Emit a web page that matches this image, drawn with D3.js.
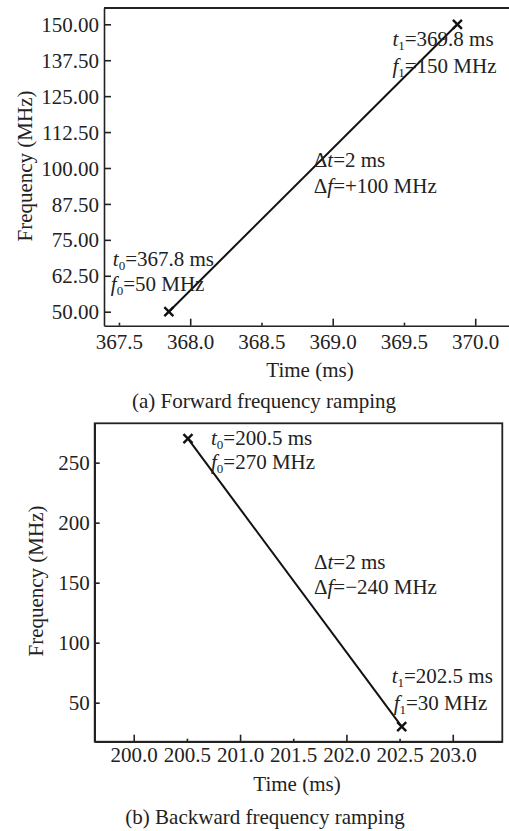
<!DOCTYPE html>
<html>
<head>
<meta charset="utf-8">
<script src="https://cdn.jsdelivr.net/npm/d3@7"></script>
<style>
  body { margin: 0; background: #fff; }
  svg { display: block; font-family: "Liberation Serif", "Times New Roman", serif; }
  .axis text { font-size: 21px; fill: #222; font-family: "Liberation Serif", serif; }
  .axis path, .axis line { stroke: #222; stroke-width: 1.6; }
</style>
</head>
<body>
<svg id="chart" width="509" height="831"></svg>
<script>
// panel (a): forward ramp
const fwdTime = [367.85, 369.875];
const fwdFreq = [50, 150];
const fwdXTicks = [367.5, 368.0, 368.5, 369.0, 369.5, 370.0];
const fwdYTicks = [50, 62.5, 75, 87.5, 100, 112.5, 125, 137.5, 150];

// panel (b): backward ramp
const bwdTime = [200.51, 202.52];
const bwdFreq = [270, 30];
const bwdXTicks = [200.0, 200.5, 201.0, 201.5, 202.0, 202.5, 203.0];
const bwdYTicks = [50, 100, 150, 200, 250];

const svg = d3.select('#chart');
const INK = '#222';
const FS = '21px';

// draws an annotation line made of pieces (italic / subscript)
function label(g, x, y, parts) {
  const t = g.append('text').attr('x', x).attr('y', y)
    .style('font-size', FS).attr('fill', INK);
  parts.forEach(p => {
    const s = t.append('tspan').text(p.t);
    if (p.i) s.style('font-style', 'italic');
    if (p.sub) s.attr('dy', 4).style('font-size', '13px');
    if (p.up) s.attr('dy', -4);
  });
}

function marker(g, x, y) {
  const r = 4.5;
  g.append('path')
    .attr('d', `M${x - r},${y - r}L${x + r},${y + r}M${x - r},${y + r}L${x + r},${y - r}`)
    .attr('stroke', '#111').attr('stroke-width', 2.4).attr('fill', 'none');
}

function title(g, x, y, txt, rot) {
  g.append('text')
    .attr('transform', `translate(${x},${y})` + (rot ? ' rotate(-90)' : ''))
    .attr('text-anchor', 'middle')
    .style('font-size', FS).attr('fill', INK).text(txt);
}

// ---------- panel (a) ----------
const xA = d3.scaleLinear().domain([367.395, 370.237]).range([104, 509]);
const yA = d3.scaleLinear().domain([45.13, 155.67]).range([325.7, 8]);
const gA = svg.append('g');

gA.append('g').attr('class', 'axis')
  .attr('transform', `translate(0,${yA.range()[0]})`)
  .call(d3.axisBottom(xA).tickValues(fwdXTicks).tickFormat(d3.format('.1f'))
    .tickSizeInner(-7).tickSizeOuter(0).tickPadding(8))
  .call(g => g.selectAll('.tick line').attr('y2', d => Number.isInteger(d) ? -7 : -3))
  .call(g => g.selectAll('.tick text').attr('dy', '0.71em'));

gA.append('g').attr('class', 'axis')
  .attr('transform', `translate(${xA.range()[0]},0)`)
  .call(d3.axisLeft(yA).tickValues(fwdYTicks).tickFormat(d3.format('.2f'))
    .tickSizeInner(-7).tickSizeOuter(0).tickPadding(5))
  .call(g => g.selectAll('.tick text').attr('dy', '0.34em'));

gA.append('line')
  .attr('x1', xA.range()[0]).attr('x2', xA.range()[1])
  .attr('y1', yA.range()[1]).attr('y2', yA.range()[1])
  .attr('stroke', INK).attr('stroke-width', 1.8);

const lineA = d3.line().x((d, i) => xA(fwdTime[i])).y(d => yA(d));
gA.append('path').datum(fwdFreq).attr('d', lineA)
  .attr('fill', 'none').attr('stroke', '#111').attr('stroke-width', 2);
fwdFreq.forEach((f, i) => marker(gA, xA(fwdTime[i]), yA(f)));

const a0 = [xA(fwdTime[0]), yA(fwdFreq[0])];
const a1 = [xA(fwdTime[1]), yA(fwdFreq[1])];
label(gA, a1[0] - 65, a1[1] + 22, [{t: 't', i: 1}, {t: '1', sub: 1}, {t: '=369.8 ms', up: 1}]);
label(gA, a1[0] - 65, a1[1] + 49, [{t: 'f', i: 1}, {t: '1', sub: 1}, {t: '=150 MHz', up: 1}]);
label(gA, a0[0] + 145, a0[1] - 145, [{t: 'Δ'}, {t: 't', i: 1}, {t: '=2 ms'}]);
label(gA, a0[0] + 145, a0[1] - 119, [{t: 'Δ'}, {t: 'f', i: 1}, {t: '=+100 MHz'}]);
label(gA, a0[0] - 56, a0[1] - 46, [{t: 't', i: 1}, {t: '0', sub: 1}, {t: '=367.8 ms', up: 1}]);
label(gA, a0[0] - 58, a0[1] - 21, [{t: 'f', i: 1}, {t: '0', sub: 1}, {t: '=50 MHz', up: 1}]);

title(gA, 310, 377, 'Time (ms)');
title(gA, 32, 166, 'Frequency (MHz)', true);
title(gA, 264, 408, '(a) Forward frequency ramping');

// ---------- panel (b) ----------
const xB = d3.scaleLinear().domain([199.633, 203.466]).range([94.7, 502.3]);
const yB = d3.scaleLinear().domain([17.5, 282.8]).range([741.7, 423.3]);
const gB = svg.append('g');

gB.append('rect')
  .attr('x', xB.range()[0]).attr('y', yB.range()[1])
  .attr('width', xB.range()[1] - xB.range()[0]).attr('height', yB.range()[0] - yB.range()[1])
  .attr('fill', 'none').attr('stroke', INK).attr('stroke-width', 1.8);

gB.append('g').attr('class', 'axis')
  .attr('transform', `translate(0,${yB.range()[0]})`)
  .call(d3.axisBottom(xB).tickValues(bwdXTicks).tickFormat(d3.format('.1f'))
    .tickSizeInner(-7).tickSizeOuter(0).tickPadding(5))
  .call(g => g.selectAll('.tick line').attr('y2', d => Number.isInteger(d) ? -7 : -3))
  .call(g => g.selectAll('.tick text').attr('dy', '0.71em'));

gB.append('g').attr('class', 'axis')
  .attr('transform', `translate(${xB.range()[0]},0)`)
  .call(d3.axisLeft(yB).tickValues(bwdYTicks).tickFormat(d3.format('d'))
    .tickSizeInner(-5).tickSizeOuter(0).tickPadding(5))
  .call(g => g.selectAll('.tick text').attr('dy', '0.34em'));

const lineB = d3.line().x((d, i) => xB(bwdTime[i])).y(d => yB(d));
gB.append('path').datum(bwdFreq).attr('d', lineB)
  .attr('fill', 'none').attr('stroke', '#111').attr('stroke-width', 2);
bwdFreq.forEach((f, i) => marker(gB, xB(bwdTime[i]), yB(f)));

const b0 = [xB(bwdTime[0]), yB(bwdFreq[0])];
const b1 = [xB(bwdTime[1]), yB(bwdFreq[1])];
label(gB, b0[0] + 23, b0[1] + 6, [{t: 't', i: 1}, {t: '0', sub: 1}, {t: '=200.5 ms', up: 1}]);
label(gB, b0[0] + 23, b0[1] + 30, [{t: 'f', i: 1}, {t: '0', sub: 1}, {t: '=270 MHz', up: 1}]);
label(gB, b0[0] + 126, b0[1] + 130, [{t: 'Δ'}, {t: 't', i: 1}, {t: '=2 ms'}]);
label(gB, b0[0] + 126, b0[1] + 155, [{t: 'Δ'}, {t: 'f', i: 1}, {t: '=−240 MHz'}]);
label(gB, b1[0] - 10, b1[1] - 44, [{t: 't', i: 1}, {t: '1', sub: 1}, {t: '=202.5 ms', up: 1}]);
label(gB, b1[0] - 8, b1[1] - 17, [{t: 'f', i: 1}, {t: '1', sub: 1}, {t: '=30 MHz', up: 1}]);

title(gB, 297, 791, 'Time (ms)');
title(gB, 43, 581, 'Frequency (MHz)', true);
title(gB, 265, 824, '(b) Backward frequency ramping');
</script>
</body>
</html>
